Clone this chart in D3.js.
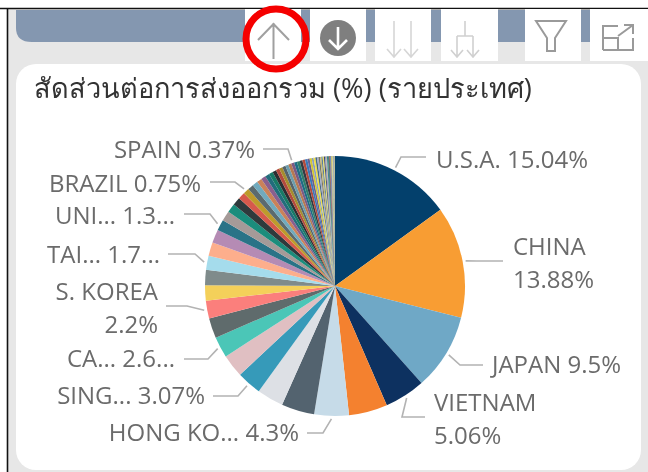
<!DOCTYPE html>
<html><head><meta charset="utf-8">
<script src="https://cdn.jsdelivr.net/npm/d3@7"></script>
<style>html,body{margin:0;padding:0;background:#fff;overflow:hidden}svg{display:block;filter:blur(0.45px)}
text{font-family:"Open Sans","Noto Sans",sans-serif;fill:#6b6b6b}</style></head><body>
<svg id="c" width="648" height="472"></svg>
<script>
const title = "สัดส่วนต่อการส่งออกรวม (%) (รายประเทศ)";
const shares = [15.04,13.88,9.5,5.06,4.8,4.3,4.1,3.3,3.07,2.85,2.6,2.5,2.2,1.9,1.9,1.75,1.68,1.67,1.35,1.25,1.1,1.0,0.85,0.75,0.72,0.68,0.62,0.58,0.54,0.5,0.47,0.44,0.42,0.4,0.39,0.38,0.37,0.36,0.35,0.34,0.33,0.3,0.28,0.26,0.24,0.22,0.2,0.19,0.18,0.17,0.16,0.15,0.14,0.13,0.12,0.11,0.1,0.09,0.08,0.08,0.07,0.07,0.06,0.06,0.05,0.05,0.04,0.04,0.03,0.03,0.02];
const colors = ["#03406c","#f89d33","#6fa8c6","#0d3160","#f4812f","#c6dbe8","#53636f","#dde0e5","#369ab9","#e0bfc2","#4bc6b7","#5f6b6c","#fb7f7c","#f4d05a","#7f8b8b","#a5dcec","#fdae8c","#b58bb4","#2a7387","#a59a98","#1b8d7c","#2e3a3c","#d6594c","#bd9b2c","#5b6a6e","#71aabd","#ca8259","#8a5f8e","#226c7c","#177a66","#2b2f33","#b34a3e","#a58d2e","#55636a","#6c9eae","#b67a52","#7c5a84"];
const tailColors = ["#1e6c86","#2f7f6b","#333a44","#b24a3c","#3a78b8","#6b5f8f","#d4c830","#8a9ec0","#f0e040","#4a6a80","#a0a8c8","#7a7a60","#c8b870","#5a7fa0","#e8e060","#404a60","#9090c0","#b0b090"];
const labelLines = [
  {i:0, lines:["U.S.A. 15.04%"], x:436, y:168, a:"start", e:[401,426], ly:157},
  {i:1, lines:["CHINA","13.88%"], x:513, y:255, a:"start", e:[477,503], ly:261},
  {i:2, lines:["JAPAN 9.5%"], x:492, y:373, a:"start", e:[460,483], ly:365},
  {i:3, lines:["VIETNAM","5.06%"], x:434, y:411, a:"start", e:[402,425], ly:417},
  {i:5, lines:["HONG KO... 4.3%"], x:299, y:441, a:"end", e:[323,307], ly:433},
  {i:8, lines:["SING... 3.07%"], x:205, y:404, a:"end", e:[238,213], ly:396},
  {i:10, lines:["CA... 2.6..."], x:175, y:367, a:"end", e:[208,184], ly:359},
  {i:12, lines:["S. KOREA","2.2%"], x:158, y:300, a:"end", e:[187,166], ly:306},
  {i:15, lines:["TAI... 1.7..."], x:160, y:263, a:"end", e:[195,168], ly:254},
  {i:18, lines:["UNI... 1.3..."], x:175, y:224, a:"end", e:[210,184], ly:214},
  {i:23, lines:["BRAZIL 0.75%"], x:201, y:192, a:"end", e:[235,210], ly:182},
  {i:36, lines:["SPAIN 0.37%"], x:255, y:158, a:"end", e:[288,263], ly:149}
];
const toolbarX = [245,310,375,441,525,590];

const svg = d3.select("#c");
svg.append("rect").attr("width",648).attr("height",472).attr("fill","#fff");
svg.append("rect").attr("x",8).attr("y",9).attr("width",640).attr("height",463).attr("fill","#e7e7e7");
svg.append("path").attr("d","M0,8.5H648M7.5,8V472").attr("stroke","#111").attr("stroke-width",1.6).attr("fill","none");
svg.append("path").attr("d","M16,10H648V42H32Q16,42 16,28Z").attr("fill","#8497b0");
toolbarX.forEach((x,i)=>svg.append("rect").attr("x",x).attr("y",9).attr("width",i==3?57:i==5?58:56).attr("height",52).attr("fill","#fff"));
svg.append("rect").attr("x",16).attr("y",64).attr("width",625).attr("height",406).attr("rx",20).attr("fill","#fff");

// toolbar icons
const ic = svg.append("g").attr("fill","none").attr("stroke-width",1.6);
ic.append("path").attr("d","M273.5,23V59M258,40L273.5,24L289,40").attr("stroke","#a0a0a0").attr("stroke-width",2);
svg.append("circle").attr("cx",338).attr("cy",38).attr("r",18).attr("fill","#7f7f7f");
svg.append("path").attr("d","M338,27V49M329,40L338,49L347,40").attr("fill","none").attr("stroke","#fff").attr("stroke-width",2.6);
ic.append("path").attr("d","M394,21V57M387,49L394,57L401,49M411,21V57M404,49L411,57L418,49").attr("stroke","#d6d6d6");
ic.append("path").attr("d","M465,21V36M457,36H473M457,36V57M473,36V57M451,50L457,57L463,50M467,50L473,57L479,50").attr("stroke","#d0d0d0");
ic.append("path").attr("d","M536,21H566L555,38V51H547V38Z").attr("stroke","#9a9a9a").attr("stroke-width",2);
ic.append("path").attr("d","M603,50V26H618M603,38H618V50M603,50H633V38M618,36L633,25M624,25H633V34").attr("stroke","#9a9a9a").attr("stroke-width",2);
svg.append("ellipse").attr("cx",276).attr("cy",39).attr("rx",30).attr("ry",30).attr("fill","none").attr("stroke","#f50000").attr("stroke-width",7);

svg.append("text").attr("x",34).attr("y",98).attr("font-size",27.2).style("fill","#333").text(title);

// pie
const cx=335, cy=286, R=130;
const allColors = shares.map((_,i)=> i<colors.length?colors[i]:tailColors[(i-colors.length)%tailColors.length]);
const pie = d3.pie().sort(null).value(d=>d);
const arcs = pie(shares);
const arc = d3.arc().innerRadius(0).outerRadius(R);
const g = svg.append("g").attr("transform",`translate(${cx},${cy})`);
g.selectAll("path").data(arcs).join("path").attr("d",arc).attr("fill",(d,i)=>allColors[i]);

const outer = d3.arc().innerRadius(R+3).outerRadius(R+3);
labelLines.forEach(l=>{
  const c = outer.centroid(arcs[l.i]);
  const px=c[0]+cx, py=c[1]+cy;
  svg.append("polyline").attr("points",`${px},${py} ${l.e[0]},${l.ly} ${l.e[1]},${l.ly}`)
    .attr("fill","none").attr("stroke","#b3b3b3").attr("stroke-width",1.6);
  l.lines.forEach((t,k)=>svg.append("text").attr("x",l.x).attr("y",l.y+k*33).attr("text-anchor",l.a).attr("font-size",24).text(t));
});
</script></body></html>
